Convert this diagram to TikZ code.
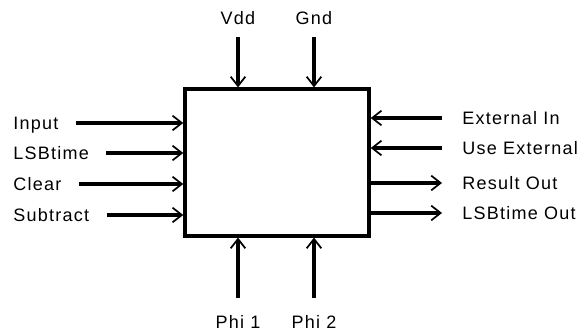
\documentclass[tikz,border=0pt]{standalone}
\usepackage{fontspec}
\setmainfont{Liberation Sans}[LetterSpace=7]
\usetikzlibrary{arrows.meta, positioning}

\begin{document}
\begin{tikzpicture}[x=0.75pt, y=-0.75pt,
    >={Straight Barb[length=7pt, width=11pt, line width=1.3pt]},
    pinlabel/.style={inner sep=0pt, text height=9.7pt, text depth=0pt,
      font=\fontsize{13.5pt}{16pt}\selectfont},
    wire/.style={line width=2.5pt}]
  \useasboundingbox (0,0) rectangle (586,332);
  % chip body
  \node[draw, line width=2.6pt, minimum width=138pt, minimum height=110pt] (chip) at (277,162.5) {};
  % inputs on the left
  \foreach \name/\txt/\ypos in {in/Input/123, lsb/LSBtime/153, clr/Clear/184, sub/Subtract/215} {
    \node[pinlabel, anchor=west] (l\name) at (13,\ypos) {\txt};
    \draw[wire, ->, shorten <=13pt] (l\name.east) -- (l\name.east -| chip.west);
  }
  % inputs on the right
  \foreach \name/\txt/\ypos in {ext/External In/118, use/Use External/148} {
    \node[pinlabel, anchor=west] (r\name) at (462,\ypos) {\txt};
    \draw[wire, <-, shorten >=15pt] (r\name.west -| chip.east) -- (r\name.west);
  }
  % outputs
  \foreach \name/\txt/\ypos in {res/Result Out/183, lso/LSBtime Out/213} {
    \node[pinlabel, anchor=west] (r\name) at (462,\ypos) {\txt};
    \draw[wire, ->, shorten >=15pt] (r\name.west -| chip.east) -- (r\name.west);
  }
  % supply
  \foreach \name/\txt/\xpos in {vdd/Vdd/238, gnd/Gnd/314} {
    \node[pinlabel, anchor=south] (t\name) at (\xpos,25) {\txt};
    \draw[wire, ->, shorten <=9pt] (t\name.south) -- (t\name.south |- chip.north);
  }
  % clocks
  \foreach \name/\txt/\xpos in {pa/Phi 1/238, pb/Phi 2/314} {
    \node[pinlabel, anchor=north] (b\name) at (\xpos,315) {\txt};
    \draw[wire, ->, shorten <=13pt] (b\name.north) -- (b\name.north |- chip.south);
  }
\end{tikzpicture}
\end{document}
